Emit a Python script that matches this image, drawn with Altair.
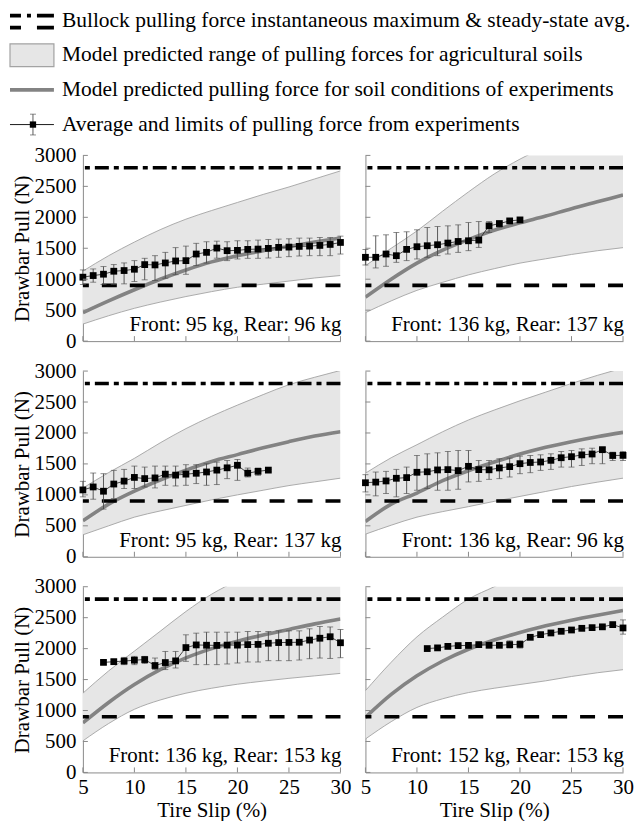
import altair as alt
import pandas as pd

FONT = "Liberation Serif"

# ---------------- text ----------------
LEGEND_LABELS = [
    "Bullock pulling force instantaneous maximum & steady-state avg.",
    "Model predicted range of pulling forces for agricultural soils",
    "Model predicted pulling force for soil conditions of experiments",
    "Average and limits of pulling force from experiments",
]
PANEL_LABELS = [
    "Front: 95 kg, Rear: 96 kg",
    "Front: 136 kg, Rear: 137 kg",
    "Front: 95 kg, Rear: 137 kg",
    "Front: 136 kg, Rear: 96 kg",
    "Front: 136 kg, Rear: 153 kg",
    "Front: 152 kg, Rear: 153 kg",
]
Y_TITLE = "Drawbar Pull (N)"
X_TITLE = "Tire Slip (%)"
X_TICKS = [5, 10, 15, 20, 25, 30]
Y_TICKS = [0, 500, 1000, 1500, 2000, 2500, 3000]

BULLOCK_AVG = [900]
BULLOCK_MAX = [2800]

# ---------------- model curves (slip grid) ----------------
MODEL_SLIP = [5, 7.5, 10, 12.5, 15, 17.5, 20, 22.5, 25, 27.5, 30]

P1_MODEL = [460, 650, 830, 1000, 1150, 1280, 1380, 1460, 1530, 1600, 1665]
P1_UPPER = [1130, 1380, 1600, 1800, 1970, 2110, 2240, 2370, 2490, 2620, 2750]
P1_LOWER = [275, 410, 530, 630, 720, 800, 870, 920, 970, 1020, 1060]

P2_MODEL = [710, 1000, 1260, 1470, 1640, 1790, 1910, 2020, 2140, 2250, 2360]
P2_UPPER = [1220, 1500, 1780, 2100, 2410, 2700, 2940, 3150, 3350, 3520, 3680]
P2_LOWER = [460, 650, 820, 950, 1070, 1170, 1260, 1330, 1400, 1460, 1510]

P3_MODEL = [580, 850, 1060, 1240, 1400, 1540, 1650, 1760, 1860, 1950, 2020]
P3_UPPER = [1110, 1360, 1590, 1840, 2070, 2270, 2450, 2620, 2780, 2900, 3010]
P3_LOWER = [355, 500, 640, 740, 830, 920, 1000, 1075, 1150, 1210, 1270]

P4_MODEL = [570, 850, 1030, 1230, 1390, 1530, 1660, 1770, 1860, 1940, 2010]
P4_UPPER = [1350, 1600, 1810, 2020, 2210, 2370, 2520, 2660, 2800, 2930, 3050]
P4_LOWER = [365, 510, 640, 730, 810, 895, 975, 1055, 1135, 1205, 1270]

P5_MODEL = [800, 1130, 1420, 1660, 1850, 2000, 2120, 2220, 2310, 2400, 2480]
P5_UPPER = [1280, 1640, 1960, 2280, 2600, 2880, 3100, 3300, 3480, 3640, 3780]
P5_LOWER = [510, 790, 1020, 1170, 1280, 1360, 1425, 1475, 1520, 1560, 1600]

P6_MODEL = [890, 1260, 1560, 1800, 1990, 2140, 2260, 2370, 2460, 2540, 2615]
P6_UPPER = [1320, 1780, 2190, 2510, 2800, 3000, 3200, 3380, 3530, 3670, 3800]
P6_LOWER = [540, 820, 1050, 1190, 1290, 1360, 1420, 1480, 1550, 1610, 1660]

# ---------------- experiments ----------------
P1_SLIP = [5, 6, 7, 8, 9, 10, 11, 12, 13, 14, 15, 16, 17, 18, 19, 20, 21, 22, 23, 24, 25, 26, 27, 28, 29, 30]
P1_MEAN = [1033, 1059, 1081, 1129, 1140, 1161, 1236, 1231, 1263, 1295, 1300, 1407, 1434, 1503, 1461, 1466, 1482, 1487, 1498, 1514, 1519, 1530, 1535, 1546, 1562, 1594]
P1_HI = [1150, 1166, 1204, 1236, 1263, 1300, 1338, 1380, 1434, 1510, 1535, 1580, 1605, 1615, 1605, 1621, 1621, 1632, 1642, 1648, 1653, 1664, 1664, 1675, 1675, 1696]
P1_LO = [915, 952, 915, 915, 925, 963, 990, 979, 1016, 1073, 1080, 1220, 1260, 1340, 1300, 1327, 1338, 1338, 1343, 1354, 1364, 1375, 1380, 1380, 1380, 1407]

P2_SLIP = [5, 6, 7, 8, 9, 10, 11, 12, 13, 14, 15, 16, 17, 18, 19, 20]
P2_MEAN = [1354, 1354, 1407, 1380, 1482, 1525, 1541, 1557, 1584, 1610, 1621, 1632, 1862, 1899, 1942, 1958]
P2_HI = [1480, 1701, 1717, 1755, 1766, 1798, 1835, 1851, 1862, 1878, 1915, 1931, 1931, 1942, 1969, 1980]
P2_LO = [1230, 1182, 1209, 1273, 1300, 1327, 1354, 1380, 1407, 1434, 1461, 1514, 1755, 1835, 1915, 1935]

P3_SLIP = [5, 6, 7, 8, 9, 10, 11, 12, 13, 14, 15, 16, 17, 18, 19, 20, 21, 22, 23]
P3_MEAN = [1080, 1128, 1059, 1175, 1222, 1282, 1263, 1274, 1335, 1319, 1335, 1349, 1370, 1400, 1437, 1478, 1351, 1380, 1400]
P3_HI = [1219, 1353, 1342, 1396, 1412, 1465, 1449, 1465, 1465, 1465, 1487, 1487, 1503, 1530, 1556, 1572, 1433, 1433, 1410]
P3_LO = [968, 930, 770, 941, 1102, 1102, 1128, 1112, 1155, 1144, 1155, 1182, 1155, 1166, 1262, 1235, 1289, 1316, 1375]

P4_SLIP = [5, 6, 7, 8, 9, 10, 11, 12, 13, 14, 15, 16, 17, 18, 19, 20, 21, 22, 23, 24, 25, 26, 27, 28, 29, 30]
P4_MEAN = [1196, 1206, 1225, 1268, 1279, 1365, 1373, 1403, 1408, 1392, 1461, 1408, 1405, 1435, 1456, 1504, 1523, 1531, 1558, 1600, 1617, 1646, 1660, 1730, 1636, 1638]
P4_HI = [1326, 1369, 1380, 1412, 1449, 1637, 1663, 1679, 1701, 1717, 1717, 1556, 1556, 1583, 1594, 1626, 1637, 1647, 1663, 1701, 1717, 1743, 1754, 1770, 1690, 1701]
P4_LO = [1048, 984, 1021, 968, 1021, 1075, 1102, 1075, 1075, 1091, 1209, 1219, 1251, 1262, 1289, 1342, 1358, 1396, 1412, 1449, 1449, 1476, 1503, 1503, 1556, 1556]

P5_SLIP = [7, 8, 9, 10, 11, 12, 13, 14, 15, 16, 17, 18, 19, 20, 21, 22, 23, 24, 25, 26, 27, 28, 29, 30]
P5_MEAN = [1778, 1789, 1799, 1813, 1823, 1727, 1775, 1802, 2017, 2060, 2055, 2052, 2057, 2057, 2065, 2068, 2087, 2098, 2100, 2103, 2138, 2168, 2192, 2095]
P5_HI = [1810, 1830, 1859, 1875, 1875, 1848, 1955, 1955, 2223, 2250, 2266, 2266, 2266, 2266, 2277, 2277, 2277, 2287, 2287, 2287, 2320, 2357, 2350, 2310]
P5_LO = [1745, 1750, 1741, 1741, 1760, 1661, 1661, 1687, 1795, 1741, 1741, 1741, 1752, 1768, 1784, 1784, 1805, 1805, 1805, 1816, 1837, 1848, 1842, 1853]

P6_SLIP = [11, 12, 13, 14, 15, 16, 17, 18, 19, 20, 21, 22, 23, 24, 25, 26, 27, 28, 29, 30]
P6_MEAN = [2001, 2012, 2036, 2049, 2052, 2065, 2054, 2054, 2065, 2068, 2183, 2226, 2253, 2280, 2301, 2328, 2339, 2352, 2388, 2334]
P6_HI = [2020, 2030, 2055, 2068, 2070, 2085, 2075, 2075, 2126, 2126, 2210, 2245, 2272, 2300, 2320, 2345, 2358, 2372, 2410, 2464]
P6_LO = [1985, 1995, 2018, 2030, 2035, 2047, 2035, 2035, 2009, 2009, 2155, 2207, 2235, 2260, 2283, 2310, 2320, 2333, 2366, 2234]

PANELS = [
    (P1_MODEL, P1_UPPER, P1_LOWER, P1_SLIP, P1_MEAN, P1_LO, P1_HI),
    (P2_MODEL, P2_UPPER, P2_LOWER, P2_SLIP, P2_MEAN, P2_LO, P2_HI),
    (P3_MODEL, P3_UPPER, P3_LOWER, P3_SLIP, P3_MEAN, P3_LO, P3_HI),
    (P4_MODEL, P4_UPPER, P4_LOWER, P4_SLIP, P4_MEAN, P4_LO, P4_HI),
    (P5_MODEL, P5_UPPER, P5_LOWER, P5_SLIP, P5_MEAN, P5_LO, P5_HI),
    (P6_MODEL, P6_UPPER, P6_LOWER, P6_SLIP, P6_MEAN, P6_LO, P6_HI),
]

# ---------------- style ----------------
W, H = 258, 186
ROW_GAP = 30
LEG_H = 116
BAND_FILL = "#e6e6e6"
BAND_EDGE = "#a3a3a3"
MODEL_COLOR = "#838383"
AXIS_COLOR = "#8a8a8a"
ERR_COLOR = "#4a4a4a"


def panel(i, left, bottom):
    model, upper, lower, slip, mean, lo, hi = PANELS[i]
    band = pd.DataFrame({"slip": MODEL_SLIP, "model": model, "upper": upper, "lower": lower})
    exp = pd.DataFrame({"slip": slip, "mean": mean, "lo": lo, "hi": hi})

    xs = alt.Scale(domain=[5, 30], nice=False, zero=False)
    ys = alt.Scale(domain=[0, 3000], nice=False, zero=False)
    if bottom:
        xa = alt.Axis(values=X_TICKS, title=X_TITLE, labelPadding=4, titlePadding=2, format="d")
    else:
        xa = alt.Axis(values=X_TICKS, labels=False, title=None)
    if left:
        ya = alt.Axis(values=Y_TICKS, title=Y_TITLE, labelPadding=7, titlePadding=1, format="d")
    else:
        ya = alt.Axis(values=Y_TICKS, labels=False, title=None)

    def X(f):
        return alt.X(f, scale=xs, axis=xa)

    def Y(f):
        return alt.Y(f, scale=ys, axis=ya)

    bb = alt.Chart(band)
    area = bb.mark_area(color=BAND_FILL, opacity=1, clip=True, interpolate="monotone").encode(
        x=X("slip:Q"), y=Y("lower:Q"), y2="upper:Q")
    e_lo = bb.mark_line(color=BAND_EDGE, strokeWidth=0.9, clip=True, interpolate="monotone").encode(
        x=X("slip:Q"), y=Y("lower:Q"))
    e_hi = bb.mark_line(color=BAND_EDGE, strokeWidth=0.9, clip=True, interpolate="monotone").encode(
        x=X("slip:Q"), y=Y("upper:Q"))
    mline = bb.mark_line(color=MODEL_COLOR, strokeWidth=3.6, clip=True, interpolate="monotone").encode(
        x=X("slip:Q"), y=Y("model:Q"))

    r_avg = alt.Chart(pd.DataFrame({"v": BULLOCK_AVG})).mark_rule(
        color="black", strokeWidth=3.6, strokeDash=[15, 13]).encode(y=Y("v:Q"))
    r_max = alt.Chart(pd.DataFrame({"v": BULLOCK_MAX})).mark_rule(
        color="black", strokeWidth=3.6, strokeDash=[14, 5, 5, 5]).encode(y=Y("v:Q"))

    eb = alt.Chart(exp)
    err = eb.mark_rule(color=ERR_COLOR, strokeWidth=0.9).encode(x=X("slip:Q"), y=Y("lo:Q"), y2="hi:Q")
    cap_lo = eb.mark_tick(color=ERR_COLOR, orient="horizontal", size=6, thickness=0.9).encode(
        x=X("slip:Q"), y=Y("lo:Q"))
    cap_hi = eb.mark_tick(color=ERR_COLOR, orient="horizontal", size=6, thickness=0.9).encode(
        x=X("slip:Q"), y=Y("hi:Q"))
    eline = eb.mark_line(color="#222222", strokeWidth=0.8).encode(x=X("slip:Q"), y=Y("mean:Q"))
    pts = eb.mark_square(color="black", size=46, opacity=1).encode(x=X("slip:Q"), y=Y("mean:Q"))

    txt = alt.Chart(pd.DataFrame({"t": [PANEL_LABELS[i]]})).mark_text(
        align="right", baseline="alphabetic", font=FONT, fontSize=21, color="black").encode(
        x=alt.value(W + 1), y=alt.value(H - 10), text="t:N")

    ytk = alt.Chart(pd.DataFrame({"v": Y_TICKS})).mark_rule(color=AXIS_COLOR, strokeWidth=1).encode(
        y=Y("v:Q"), x=alt.value(0), x2=alt.value(5))
    xtk = alt.Chart(pd.DataFrame({"v": X_TICKS})).mark_rule(color=AXIS_COLOR, strokeWidth=1).encode(
        x=X("v:Q"), y=alt.value(H), y2=alt.value(H - 5))

    return alt.layer(area, e_lo, e_hi, mline, r_avg, r_max, err, cap_lo, cap_hi, eline, pts,
                     txt, ytk, xtk).properties(width=W, height=H)


# ---------------- legend ----------------
LY = alt.Scale(domain=[-0.317, -0.317 + LEG_H / 34.7], reverse=True, nice=False, zero=False)
LX0, LX1, LXC, LXT = -73, -29, -50, -21
leg = pd.DataFrame({"row": [0, 1, 2, 3], "label": LEGEND_LABELS})
lb = alt.Chart(leg)
ly = alt.Y("row:Q", scale=LY, axis=None)

l_text = lb.mark_text(align="left", baseline="middle", font=FONT, fontSize=21.5, color="black").encode(
    x=alt.value(LXT), y=ly, text="label:N")
l_dd = lb.transform_filter("datum.row == 0").mark_rule(
    color="black", strokeWidth=3.6, strokeDash=[11, 6, 4, 6, 17, 100], yOffset=-5).encode(
    x=alt.value(LX0), x2=alt.value(LX1), y=ly)
l_d = lb.transform_filter("datum.row == 0").mark_rule(
    color="black", strokeWidth=3.6, strokeDash=[11, 16, 17, 100], yOffset=7).encode(
    x=alt.value(LX0), x2=alt.value(LX1), y=ly)
l_rect = lb.transform_filter("datum.row == 1").transform_calculate(
    y1="datum.row - 0.33", y2="datum.row + 0.33").mark_rect(
    fill=BAND_FILL, stroke=BAND_EDGE, strokeWidth=1.2).encode(
    x=alt.value(LX0), x2=alt.value(LX1), y=alt.Y("y1:Q", scale=LY, axis=None), y2="y2:Q")
l_model = lb.transform_filter("datum.row == 2").mark_rule(color=MODEL_COLOR, strokeWidth=3.6).encode(
    x=alt.value(LX0), x2=alt.value(LX1), y=ly)
l_eh = lb.transform_filter("datum.row == 3").mark_rule(color="black", strokeWidth=0.9).encode(
    x=alt.value(LX0), x2=alt.value(LX1), y=ly)
l_ev = lb.transform_filter("datum.row == 3").transform_calculate(
    y1="datum.row - 0.3", y2="datum.row + 0.3").mark_rule(color=ERR_COLOR, strokeWidth=0.9).encode(
    x=alt.value(LXC), y=alt.Y("y1:Q", scale=LY, axis=None), y2="y2:Q")
l_c1 = lb.transform_filter("datum.row == 3").transform_calculate(
    y1="datum.row - 0.3").mark_tick(color=ERR_COLOR, orient="horizontal", size=6, thickness=0.9).encode(
    x=alt.value(LXC), y=alt.Y("y1:Q", scale=LY, axis=None))
l_c2 = lb.transform_filter("datum.row == 3").transform_calculate(
    y2="datum.row + 0.3").mark_tick(color=ERR_COLOR, orient="horizontal", size=6, thickness=0.9).encode(
    x=alt.value(LXC), y=alt.Y("y2:Q", scale=LY, axis=None))
l_sq = lb.transform_filter("datum.row == 3").mark_square(color="black", size=40, opacity=1).encode(
    x=alt.value(LXC), y=ly)

legend = alt.layer(l_rect, l_dd, l_d, l_model, l_eh, l_ev, l_c1, l_c2, l_sq, l_text).properties(
    width=W, height=LEG_H)

blank = alt.Chart(pd.DataFrame({"t": [0]})).mark_point(opacity=0, size=1).encode(
    x=alt.value(W / 2), y=alt.value(LEG_H / 2)).properties(width=W, height=LEG_H)

chart = alt.concat(
    legend, blank,
    panel(0, True, False), panel(1, False, False),
    panel(2, True, False), panel(3, False, False),
    panel(4, True, True), panel(5, False, True),
    columns=2, spacing={"row": ROW_GAP, "column": 25}, bounds="flush", align="each",
).properties(
    padding={"left": 0, "top": 0, "right": 0, "bottom": 0}, background="white"
).configure_axis(
    labelFont=FONT, titleFont=FONT, labelFontSize=21, titleFontSize=21,
    labelColor="black", titleColor="black", titleFontWeight="normal",
    domainColor=AXIS_COLOR, domainWidth=1, tickSize=0, grid=False, labelFlush=False,
).configure_view(strokeWidth=0)

chart.save("out.html", embed_options={"renderer": "svg", "actions": False})
